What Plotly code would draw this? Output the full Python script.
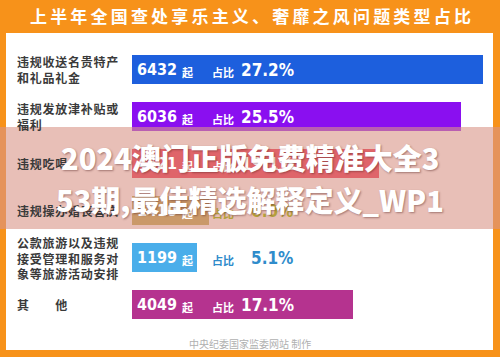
import plotly.graph_objects as go

# ---- data ----
categories = [
    "违规收送名贵特产<br>和礼品礼金",
    "违规发放津补贴或<br>福利",
    "违规吃喝",
    "违规操办婚丧喜庆",
    "公款旅游以及违规<br>接受管理和服务对<br>象等旅游活动安排",
    "其　　他",
]
counts = [6432, 6036, 4521, 1410, 1199, 4049]
shares = ["27.2%", "25.5%", "19.1%", "6.0%", "5.1%", "17.1%"]
bar_colors = ["#1D5FDD", "#8A0FF0", "#E8203F", "#B4A03C", "#4AAEEA", "#B5338F"]
text_inside_pct = [True, True, True, False, False, True]
pct_outside_colors = [None, None, None, "#B4A03C", "#2F8CCB", None]

title = "上半年全国查处享乐主义、奢靡之风问题类型占比"
footer = "中央纪委国家监委网站 制作"
overlay_lines = ["2024澳门正版免费精准大全3", "53期,最佳精选解释定义_WP1"]

W, H = 500, 357
ORANGE = "#F7921A"
rows = list(range(len(categories)))

fig = go.Figure()
fig.add_trace(go.Bar(
    y=rows, x=counts, orientation="h", width=0.6,
    marker=dict(color=bar_colors, line=dict(width=0)),
    hoverinfo="skip", showlegend=False,
))

def spaced(s, sep="\u200a"):
    return sep.join(s)

ann = []
CJK = "Noto Sans CJK SC"
NUM = "DejaVu Sans Condensed"
for i, cat in enumerate(categories):
    lines = cat.split("<br>")
    ann.append(dict(
        x=15 / W, xref="paper", y=i, yref="y", xanchor="left", yanchor="middle",
        align="left", showarrow=False,
        text="<br>".join(spaced(l) for l in lines),
        font=dict(family=CJK, size=12, color="#3a3a3a", weight="bold"),
    ))
    ann.append(dict(
        x=0, xref="x", y=i, yref="y", xanchor="left", yanchor="middle",
        xshift=3, yshift=0, showarrow=False, text=f"<b>{counts[i]}</b>",
        font=dict(family=NUM, size=16, color="white"),
    ))
    ann.append(dict(
        x=0, xref="x", y=i, yref="y", xanchor="left", yanchor="middle",
        xshift=48, yshift=-2, showarrow=False, text="起",
        font=dict(family=CJK, size=11, color="white", weight="bold"),
    ))
    pc = "white" if text_inside_pct[i] else pct_outside_colors[i]
    ann.append(dict(
        x=0, xref="x", y=i, yref="y", xanchor="left", yanchor="middle",
        xshift=78, yshift=-2, showarrow=False, text="占比",
        font=dict(family=CJK, size=11, color=pc, weight="bold"),
    ))
    pshift = 107 if text_inside_pct[i] or len(shares[i]) > 4 else 117
    ann.append(dict(
        x=0, xref="x", y=i, yref="y", xanchor="left", yanchor="middle",
        xshift=pshift, showarrow=False, text=f"<b>{shares[i]}</b>",
        font=dict(family=NUM, size=17, color=pc),
    ))

ann.append(dict(
    x=0.5, xref="paper", y=1 - 16 / H, yref="paper", xanchor="center", yanchor="middle",
    showarrow=False, text=spaced(spaced(title)),
    font=dict(family=CJK, size=17, color="white", weight="bold"),
))
ann.append(dict(
    x=0.5, xref="paper", y=1 - 343 / H, yref="paper", xanchor="center", yanchor="middle",
    showarrow=False, text=footer,
    font=dict(family=CJK, size=10, color="#b0b0b0"),
))
for k, line in enumerate(overlay_lines):
    ann.append(dict(
        x=0.5, xref="paper", y=1 - (157 + 42 * k) / H, yref="paper",
        xanchor="center", yanchor="middle", showarrow=False, text=line,
        font=dict(family=CJK, size=29, color="white", weight=900,
                  shadow="1px 1px 2px rgba(80,30,30,0.45)"),
    ))

shapes = [
    dict(type="rect", xref="paper", yref="paper", x0=6 / W, x1=493 / W,
         y0=1 - 350 / H, y1=1 - 33 / H, fillcolor="white", line=dict(width=0),
         layer="below"),
    dict(type="rect", xref="paper", yref="paper", x0=0, x1=1,
         y0=1 - 229 / H, y1=1 - 127 / H, fillcolor="rgba(217,148,135,0.6)",
         line=dict(width=0), layer="above"),
]

px_per_unit = 351 / 6432
x0_px, x1_px = 132, 490
y_top, y_bot = 46, 328
fig.update_layout(
    width=W, height=H, margin=dict(l=0, r=0, t=0, b=0),
    paper_bgcolor=ORANGE, plot_bgcolor="rgba(0,0,0,0)",
    xaxis=dict(domain=[x0_px / W, x1_px / W], range=[0, (x1_px - x0_px) / px_per_unit],
               visible=False, fixedrange=True),
    yaxis=dict(domain=[1 - y_bot / H, 1 - y_top / H], range=[5.5, -0.5],
               visible=False, fixedrange=True),
    annotations=ann, shapes=shapes, bargap=0,
)
fig.write_html("out.html")
